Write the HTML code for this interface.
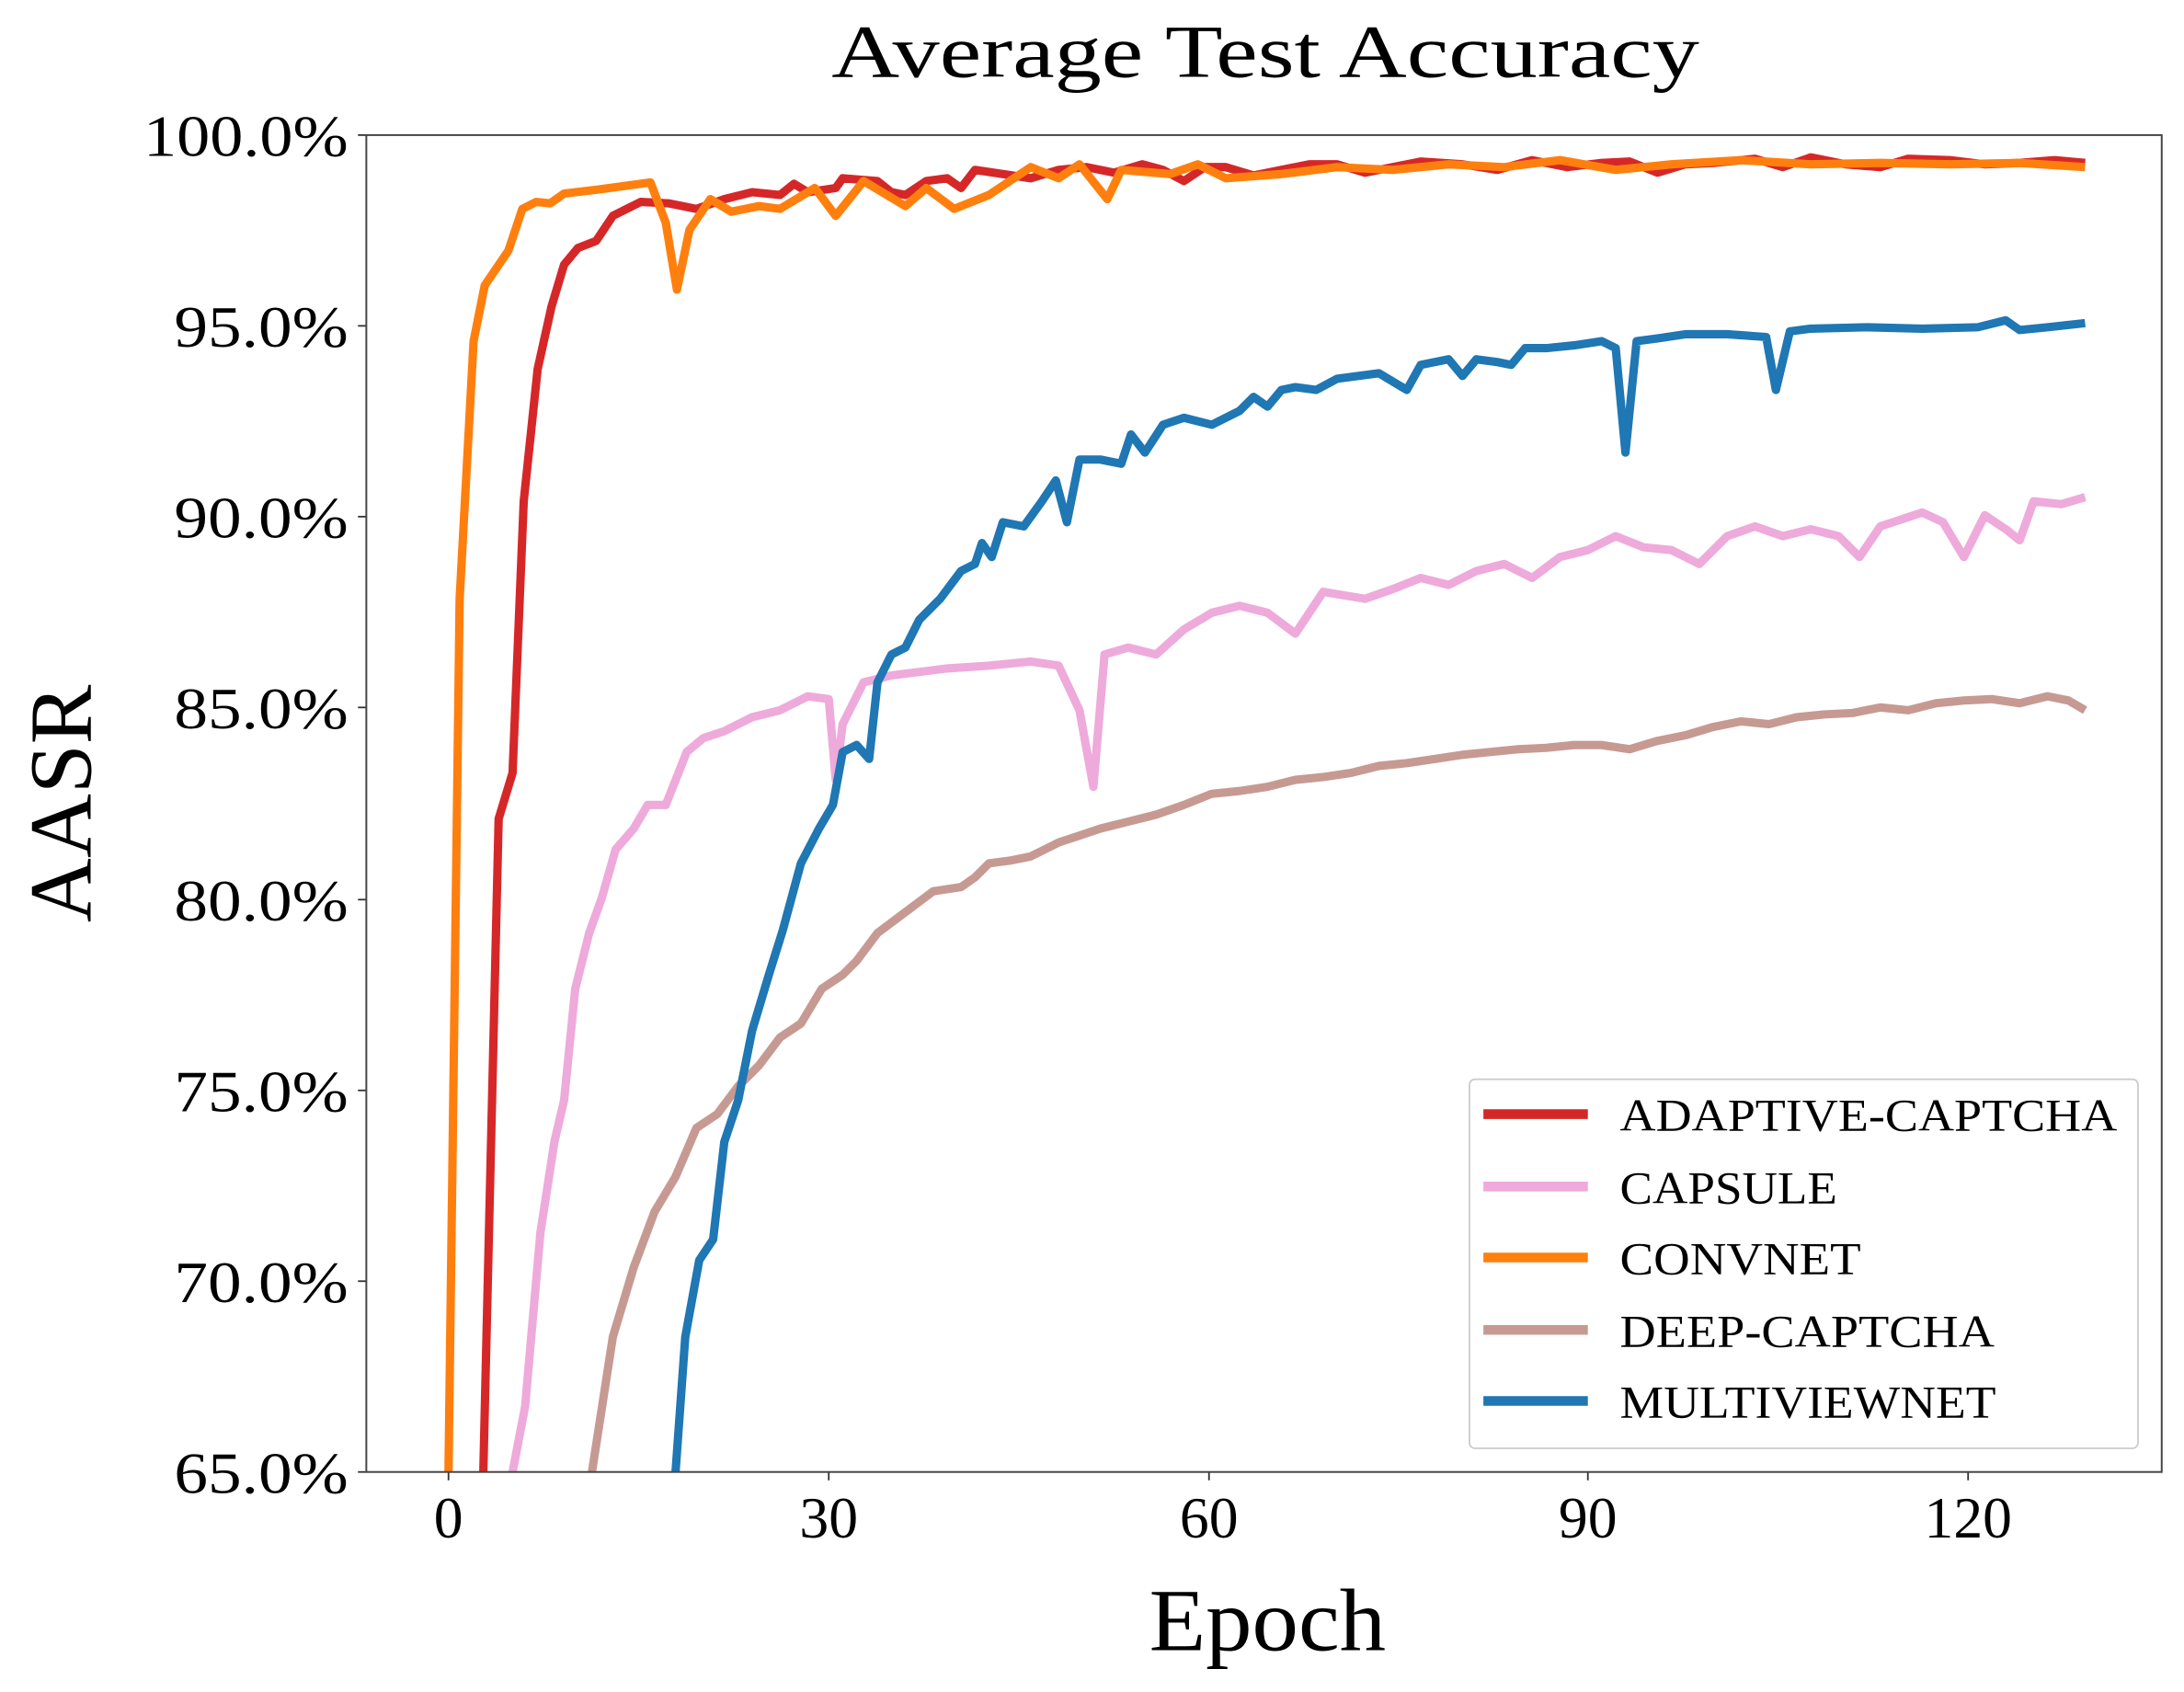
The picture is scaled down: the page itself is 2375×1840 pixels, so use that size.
<!DOCTYPE html>
<html><head><style>html,body{margin:0;padding:0;background:#fff}svg{display:block}</style></head><body>
<svg width="2375" height="1840" viewBox="0 0 1568 1215" xmlns="http://www.w3.org/2000/svg" preserveAspectRatio="none" font-family="'Liberation Serif',serif">
<defs><clipPath id="c"><rect x="263" y="97" width="1289" height="960"/></clipPath></defs>
<rect width="1568" height="1215" fill="#fff"/>
<text x="597" y="55" font-size="54" textLength="623" lengthAdjust="spacingAndGlyphs">Average Test Accuracy</text>
<g font-size="42" text-anchor="end" lengthAdjust="spacingAndGlyphs">
<text x="250" y="112" textLength="147" lengthAdjust="spacingAndGlyphs">100.0%</text>
<text x="250" y="249" textLength="125" lengthAdjust="spacingAndGlyphs">95.0%</text>
<text x="250" y="386" textLength="125" lengthAdjust="spacingAndGlyphs">90.0%</text>
<text x="250" y="523" textLength="125" lengthAdjust="spacingAndGlyphs">85.0%</text>
<text x="250" y="661" textLength="125" lengthAdjust="spacingAndGlyphs">80.0%</text>
<text x="250" y="798" textLength="125" lengthAdjust="spacingAndGlyphs">75.0%</text>
<text x="250" y="935" textLength="125" lengthAdjust="spacingAndGlyphs">70.0%</text>
<text x="250" y="1072" textLength="125" lengthAdjust="spacingAndGlyphs">65.0%</text>
</g>
<g stroke="#333" stroke-width="1.2">
<line x1="257" y1="97" x2="263" y2="97"/><line x1="257" y1="234" x2="263" y2="234"/><line x1="257" y1="371" x2="263" y2="371"/><line x1="257" y1="508" x2="263" y2="508"/><line x1="257" y1="646" x2="263" y2="646"/><line x1="257" y1="783" x2="263" y2="783"/><line x1="257" y1="920" x2="263" y2="920"/><line x1="257" y1="1057" x2="263" y2="1057"/>
<line x1="322" y1="1057" x2="322" y2="1063"/><line x1="595" y1="1057" x2="595" y2="1063"/><line x1="868" y1="1057" x2="868" y2="1063"/><line x1="1140" y1="1057" x2="1140" y2="1063"/><line x1="1413" y1="1057" x2="1413" y2="1063"/>
</g>
<g font-size="42" text-anchor="middle">
<text x="322" y="1104">0</text><text x="595" y="1104">30</text><text x="868" y="1104">60</text><text x="1140" y="1104">90</text><text x="1413" y="1104">120</text>
</g>
<text x="825" y="1185" font-size="64" textLength="170" lengthAdjust="spacingAndGlyphs">Epoch</text>
<text transform="translate(65,577) rotate(-90)" font-size="64" text-anchor="middle">AASR</text>
<g clip-path="url(#c)" fill="none" stroke-width="6" stroke-linejoin="round">
<polyline stroke="#c69a92" points="425,1057 440,960 455,910 470,870 485,845 500,810 515,800 530,780 545,765 560,745 575,735 590,710 605,700 615,690 630,670 650,655 670,640 690,637 700,630 710,620 725,618 740,615 760,605 775,600 790,595 810,590 830,585 850,578 870,570 890,568 910,565 930,560 950,558 970,555 990,550 1010,548 1030,545 1050,542 1070,540 1090,538 1110,537 1130,535 1150,535 1170,538 1190,532 1210,528 1230,522 1250,518 1270,520 1290,515 1310,513 1330,512 1350,508 1370,510 1390,505 1410,503 1430,502 1450,505 1470,500 1485,503 1497,510"/>
<polyline stroke="#eeaadb" points="368,1057 377,1010 388,885 398,820 405,790 413,710 423,670 432,645 442,610 455,595 465,578 478,578 493,540 505,530 520,525 540,515 560,510 580,500 595,502 600,560 605,520 620,490 640,485 680,480 710,478 740,475 760,478 775,510 785,565 793,470 810,465 830,470 850,452 870,440 890,435 910,440 930,455 950,425 980,430 1000,423 1020,415 1040,420 1060,410 1080,405 1100,415 1120,400 1140,395 1160,385 1180,393 1200,395 1220,405 1240,385 1260,378 1280,385 1300,380 1320,385 1335,400 1350,378 1380,368 1395,375 1410,400 1425,370 1440,380 1450,388 1460,360 1480,362 1497,357"/>
<polyline stroke="#1f77b4" points="485,1057 492,960 502,905 512,890 520,820 530,790 540,740 552,700 562,668 575,620 588,595 598,578 605,540 615,535 624,545 630,490 640,470 650,465 660,445 675,430 690,410 700,405 705,390 712,400 720,375 735,378 748,360 758,345 766,375 775,330 790,330 805,333 812,312 822,325 835,305 850,300 870,305 890,295 900,285 910,292 920,280 930,278 945,280 960,272 975,270 990,268 1010,280 1020,262 1040,258 1050,270 1060,258 1075,260 1085,262 1095,250 1110,250 1130,248 1150,245 1160,250 1167,325 1175,245 1190,243 1210,240 1240,240 1268,242 1275,280 1285,238 1300,236 1340,235 1380,236 1420,235 1440,230 1450,237 1470,235 1497,232"/>
<polyline stroke="#d62728" points="347,1057 358,588 368,555 376,360 386,265 396,220 405,190 415,178 428,173 440,155 460,145 480,146 500,150 520,143 540,138 560,140 570,132 580,138 600,135 605,128 630,130 640,138 650,140 665,130 680,128 690,135 700,122 720,125 740,128 760,122 780,120 800,124 820,118 835,122 850,130 865,120 880,120 900,126 920,122 940,118 960,118 980,124 1000,120 1020,116 1050,118 1075,122 1100,115 1125,120 1150,117 1170,116 1190,124 1210,118 1230,117 1260,114 1280,120 1300,113 1325,118 1350,120 1370,114 1400,115 1425,118 1450,117 1475,115 1497,117"/>
<polyline stroke="#ff7f0e" points="322,1057 330,430 340,245 348,205 365,180 375,150 385,145 395,146 405,139 430,136 467,131 478,160 486,208 495,165 510,143 525,152 545,148 560,150 585,135 600,155 620,130 650,148 665,135 685,150 710,140 740,120 760,128 775,118 795,143 805,122 840,125 860,118 880,128 920,125 960,120 1000,122 1040,118 1080,120 1120,115 1160,122 1200,118 1250,115 1300,118 1350,117 1400,118 1450,117 1497,120"/>
</g>
<rect x="263" y="97" width="1289" height="960" fill="none" stroke="#444" stroke-width="1.3"/>
<rect x="1055" y="775" width="480" height="265" rx="4" fill="#fff" fill-opacity="0.85" stroke="#ccc" stroke-width="1.2"/>
<g stroke-width="7">
<line x1="1065" y1="800" x2="1140" y2="800" stroke="#d62728"/>
<line x1="1065" y1="852" x2="1140" y2="852" stroke="#eeaadb"/>
<line x1="1065" y1="903" x2="1140" y2="903" stroke="#ff7f0e"/>
<line x1="1065" y1="955" x2="1140" y2="955" stroke="#c69a92"/>
<line x1="1065" y1="1006" x2="1140" y2="1006" stroke="#1f77b4"/>
</g>
<g font-size="33">
<text x="1163" y="812" textLength="357" lengthAdjust="spacingAndGlyphs">ADAPTIVE-CAPTCHA</text>
<text x="1163" y="864" textLength="156" lengthAdjust="spacingAndGlyphs">CAPSULE</text>
<text x="1163" y="915" textLength="173" lengthAdjust="spacingAndGlyphs">CONVNET</text>
<text x="1163" y="967" textLength="269" lengthAdjust="spacingAndGlyphs">DEEP-CAPTCHA</text>
<text x="1163" y="1018" textLength="270" lengthAdjust="spacingAndGlyphs">MULTIVIEWNET</text>
</g>
</svg>
</body></html>
